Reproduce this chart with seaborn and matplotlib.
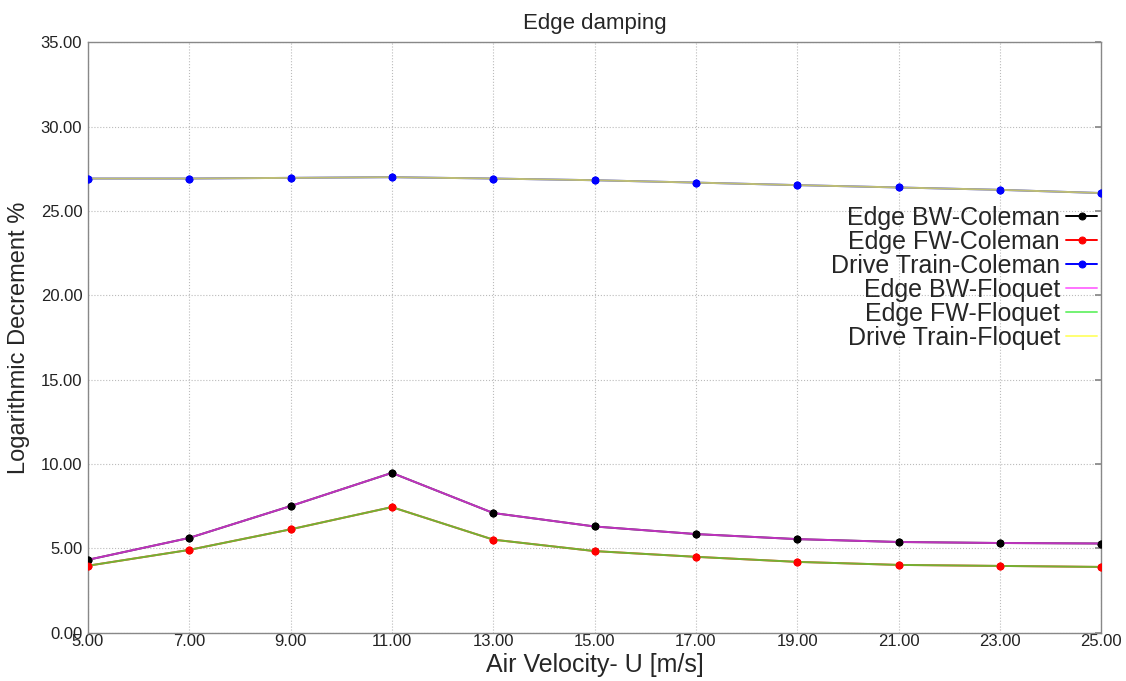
import matplotlib
matplotlib.use("Agg")
import matplotlib.pyplot as plt
import seaborn as sns
import pandas as pd

# Data
wind_speed = [5, 7, 9, 11, 13, 15, 17, 19, 21, 23, 25]
edge_bw_coleman = [4.31, 5.61, 7.50, 9.47, 7.09, 6.29, 5.84, 5.54, 5.37, 5.31, 5.28]
edge_fw_coleman = [3.96, 4.90, 6.12, 7.44, 5.51, 4.83, 4.49, 4.19, 4.01, 3.95, 3.89]
drive_train_coleman = [26.93, 26.93, 26.97, 27.01, 26.93, 26.83, 26.69, 26.54, 26.40, 26.26, 26.07]
edge_bw_floquet = [4.31, 5.61, 7.50, 9.47, 7.09, 6.29, 5.84, 5.54, 5.37, 5.31, 5.28]
edge_fw_floquet = [3.96, 4.90, 6.12, 7.44, 5.51, 4.83, 4.49, 4.19, 4.01, 3.95, 3.89]
drive_train_floquet = [26.93, 26.93, 26.97, 27.01, 26.93, 26.83, 26.69, 26.54, 26.40, 26.26, 26.07]

x_ticks = [5, 7, 9, 11, 13, 15, 17, 19, 21, 23, 25]
y_ticks = [0, 5, 10, 15, 20, 25, 30, 35]

sns.set_theme(style="white")
plt.rcParams['font.family'] = ['Liberation Sans', 'DejaVu Sans']

fig = plt.figure(figsize=(11.26, 6.81), dpi=100)
ax = fig.add_axes([0.078, 0.0712, 0.900, 0.8664])

coleman = [("Edge BW-Coleman", edge_bw_coleman, "black"),
           ("Edge FW-Coleman", edge_fw_coleman, "red"),
           ("Drive Train-Coleman", drive_train_coleman, "blue")]
floquet = [("Edge BW-Floquet", edge_bw_floquet, "#ff44ff"),
           ("Edge FW-Floquet", edge_fw_floquet, "#44ee44"),
           ("Drive Train-Floquet", drive_train_floquet, "#ffff44")]

for name, vals, col in coleman:
    df = pd.DataFrame({"U": wind_speed, "v": vals})
    sns.lineplot(data=df, x="U", y="v", ax=ax, color=col, linewidth=1.4,
                 marker="o", markersize=5, markeredgecolor=col,
                 label=name, zorder=3)
for name, vals, col in floquet:
    df = pd.DataFrame({"U": wind_speed, "v": vals})
    sns.lineplot(data=df, x="U", y="v", ax=ax, color=col, linewidth=1.4,
                 alpha=0.75, label=name, zorder=4)
# Coleman markers on top
for name, vals, col in coleman:
    df = pd.DataFrame({"U": wind_speed, "v": vals})
    sns.scatterplot(data=df, x="U", y="v", ax=ax, color=col, s=26,
                    edgecolor=col, linewidth=0.5, zorder=5, legend=False)

ax.set_xlim(5, 25)
ax.set_ylim(0, 35)
ax.set_xticks(x_ticks)
ax.set_xticklabels([f"{v:.2f}" for v in x_ticks], fontsize=12)
ax.set_yticks(y_ticks)
ax.set_yticklabels([f"{v:.2f}" for v in y_ticks], fontsize=12)
ax.tick_params(axis='both', direction='in', length=4, color='#888888',
               labelcolor='#222222', top=False, right=True)
ax.tick_params(axis='x', pad=1)
ax.tick_params(axis='y', pad=4)
ax.grid(True, linestyle=':', color='#bbbbbb', linewidth=0.8)
for sp in ax.spines.values():
    sp.set_color('#888888')
    sp.set_linewidth(1.0)

ax.set_title("Edge damping", fontsize=16, pad=10)
ax.set_xlabel("Air Velocity- U [m/s]", fontsize=18, labelpad=3)
ax.set_ylabel("Logarithmic Decrement %", fontsize=17, labelpad=8)

leg = ax.legend(loc='upper right', bbox_to_anchor=(1.0, 0.73), frameon=False,
                markerfirst=False, fontsize=18, handlelength=1.25,
                handletextpad=0.25, labelspacing=0.0, borderaxespad=0.0,
                borderpad=0.15)
for t in leg.get_texts():
    t.set_ha('right')

fig.savefig("out.png", dpi=100)
